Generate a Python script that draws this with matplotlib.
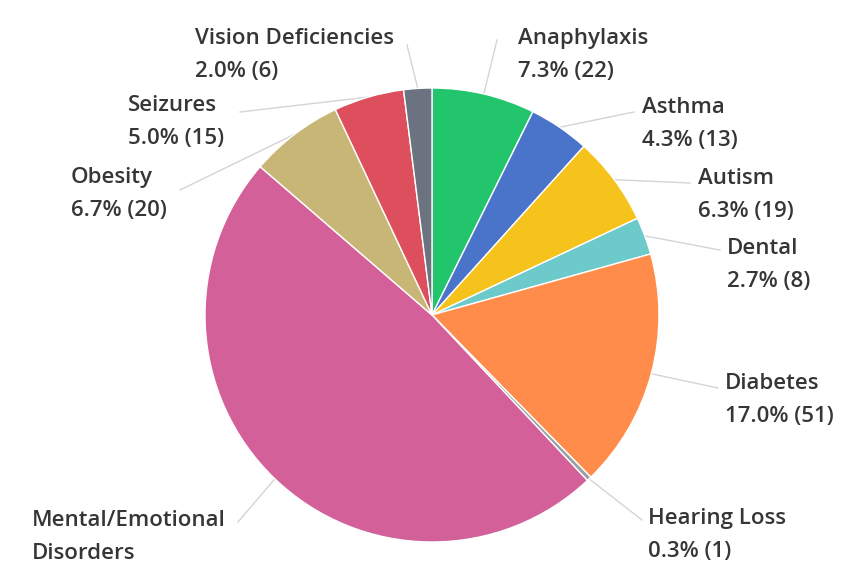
import numpy as np
import matplotlib
matplotlib.use("Agg")
import matplotlib.pyplot as plt

categories = ["Anaphylaxis", "Asthma", "Autism", "Dental", "Diabetes", "Hearing Loss",
              "Mental/Emotional\nDisorders", "Obesity", "Seizures", "Vision Deficiencies"]
counts = [22, 13, 19, 8, 51, 1, 145, 20, 15, 6]
colors = ["#22c56c", "#4a74c9", "#f6c21c", "#6ccaca", "#ff8c4a", "#9aa0a6",
          "#d4609a", "#c8b676", "#dd4f5c", "#6b7280"]
# the largest slice is labelled by name only
show_value = [True, True, True, True, True, True, False, True, True, True]

W, H = 845, 577
fig = plt.figure(figsize=(W / 100, H / 100), dpi=100)
ax = fig.add_axes([0, 0, 1, 1])

cx, cy, R = 432, H - 315, 227
wedges, _ = ax.pie(counts, colors=colors, startangle=90, counterclock=False,
                   center=(cx, cy), radius=R,
                   wedgeprops=dict(edgecolor="white", linewidth=1))
ax.set_xlim(0, W)
ax.set_ylim(0, H)
ax.set_aspect("equal")
ax.axis("off")

total = sum(counts)
# text anchor (left x, top y in pixels from top) and leader end point for each label
label_pos = [(518, 28), (642, 97), (698, 168), (727, 238), (725, 373), (648, 508),
             (32, 510), (71, 167), (128, 95), (195, 28)]
leader_end = [(497, 40), (634, 112), (690, 183), (720, 250), (718, 388), (642, 520),
              (238, 522), (180, 190), (240, 112), (407, 45)]

for w, name, c, show, (lx, ly), (ex, ey) in zip(wedges, categories, counts, show_value,
                                                 label_pos, leader_end):
    mid = np.deg2rad((w.theta1 + w.theta2) / 2)
    px, py = cx + R * np.cos(mid), cy + R * np.sin(mid)
    ax.plot([px, ex], [py, H - ey], color="#d4d4d4", lw=1, zorder=0)
    pct = 100 * c / total
    text = f"{name}\n{pct:.1f}% ({c})" if show else name
    ax.text(lx, H - ly, text, ha="left", va="top",
            fontsize=16, color="#363636", fontfamily="Open Sans",
            fontweight="semibold", linespacing=1.75)

fig.savefig("out.png", dpi=100)
